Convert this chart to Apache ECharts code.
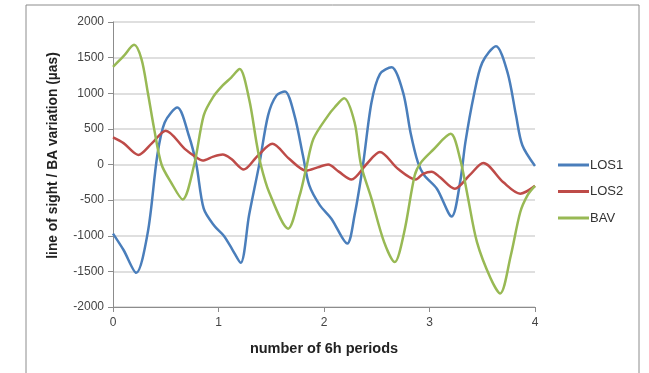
<!DOCTYPE html>
<html>
<head>
<meta charset="utf-8">
<script src="https://cdn.jsdelivr.net/npm/echarts@6/dist/echarts.min.js"></script>
<style>
  html, body { margin: 0; padding: 0; background: #fff; }
  #chart { width: 649px; height: 373px; }
</style>
</head>
<body>
<div id="chart"></div>
<script>
// values: [periods, µas]
const los1 = [
  [0, -970], [0.1, -1200], [0.22, -1520], [0.33, -950], [0.42, 130], [0.49, 590],
  [0.61, 800], [0.72, 400], [0.79, 0], [0.86, -620], [0.96, -860], [1.05, -1000],
  [1.13, -1190], [1.21, -1380], [1.29, -710], [1.39, 30], [1.47, 690], [1.55, 970],
  [1.63, 1025], [1.72, 690], [1.80, 130], [1.86, -290], [1.96, -570], [2.07, -760],
  [2.22, -1110], [2.29, -710], [2.37, 0], [2.45, 870], [2.53, 1270], [2.64, 1365],
  [2.75, 1010], [2.82, 450], [2.89, 30], [2.95, -150], [3.07, -340], [3.21, -730],
  [3.29, -250], [3.34, 310], [3.42, 970], [3.50, 1430], [3.63, 1660], [3.74, 1290],
  [3.82, 690], [3.88, 270], [4.0, -20]
]
const los2 = [
  [0, 380], [0.1, 300], [0.24, 135], [0.37, 300], [0.50, 475], [0.68, 220],
  [0.79, 100], [0.85, 55], [0.95, 110], [1.04, 140], [1.12, 80], [1.24, -70],
  [1.37, 120], [1.51, 290], [1.67, 80], [1.83, -85], [1.94, -40], [2.04, 0],
  [2.14, -100], [2.26, -210], [2.40, 0], [2.53, 175], [2.70, -60], [2.87, -210],
  [2.94, -130], [3.02, -100], [3.10, -180], [3.24, -340], [3.38, -150], [3.51, 20],
  [3.70, -250], [3.86, -410], [4.0, -300]
]
const bav = [
  [0, 1370], [0.1, 1520], [0.2, 1680], [0.27, 1480], [0.33, 1010], [0.39, 500],
  [0.46, 0], [0.55, -250], [0.66, -490], [0.77, 0], [0.86, 690], [0.95, 950],
  [1.04, 1110], [1.12, 1220], [1.2, 1340], [1.29, 920], [1.36, 310], [1.40, 0],
  [1.48, -390], [1.66, -900], [1.77, -430], [1.83, -60], [1.90, 360], [2.04, 690],
  [2.1, 800], [2.19, 930], [2.29, 590], [2.35, 0], [2.45, -480], [2.57, -1090],
  [2.67, -1370], [2.76, -950], [2.86, -150], [2.92, 30], [3.03, 200], [3.2, 430],
  [3.29, 80], [3.36, -430], [3.45, -1090], [3.58, -1600], [3.67, -1810], [3.77, -1280],
  [3.86, -670], [3.93, -430], [4.0, -300]
]
const seriesNames = ['LOS1', 'LOS2', 'BAV']
const seriesColors = ['#4a7ebb', '#be4b48', '#98b954']

const font = 'Liberation Sans'
const chart = echarts.init(document.getElementById('chart'))

function line(name, data, color) {
  return {
    name, type: 'line', data, smooth: 0.3, symbol: 'none',
    lineStyle: { color, width: 2.5 }, itemStyle: { color }
  }
}

chart.setOption({
  animation: false,
  textStyle: { fontFamily: font },
  graphic: [{
    type: 'rect', shape: { x: 26, y: 5, width: 613, height: 390 },
    style: { fill: 'none', stroke: '#8c8c8c', lineWidth: 1 }, silent: true
  }],
  grid: { left: 113, right: 114, top: 22, bottom: 66 },
  legend: {
    orient: 'vertical', left: 553, top: 153, itemGap: 12.5,
    itemWidth: 31, itemHeight: 3, icon: 'rect',
    data: seriesNames,
    textStyle: { fontFamily: font, fontSize: 13, lineHeight: 14, color: '#333', padding: [0, 0, 0, -4] }
  },
  xAxis: {
    type: 'value', min: 0, max: 4, interval: 1,
    name: 'number of 6h periods', nameLocation: 'middle', nameGap: 34,
    nameTextStyle: { fontFamily: font, fontSize: 14.5, fontWeight: 'bold', color: '#222' },
    axisLine: { show: true, onZero: false, lineStyle: { color: '#8c8c8c', width: 1 } },
    axisTick: { show: true, length: 5, inside: false, lineStyle: { color: '#8c8c8c' } },
    axisLabel: { color: '#444', fontSize: 12, margin: 10 },
    splitLine: { show: false }
  },
  yAxis: {
    type: 'value', min: -2000, max: 2000, interval: 500,
    name: 'line of sight / BA variation (µas)', nameLocation: 'middle', nameGap: 53,
    nameTextStyle: { fontFamily: font, fontSize: 13.8, fontWeight: 'bold', color: '#222', padding: [0, 0, 0, 18] },
    axisLine: { show: true, lineStyle: { color: '#8c8c8c', width: 1 } },
    axisTick: { show: true, length: 5, lineStyle: { color: '#8c8c8c' } },
    axisLabel: { color: '#444', fontSize: 12, margin: 9, formatter: v => String(v) },
    splitLine: { lineStyle: { color: '#d4d4d4', width: 1.5 } }
  },
  series: [
    line(seriesNames[0], los1, seriesColors[0]),
    line(seriesNames[1], los2, seriesColors[1]),
    line(seriesNames[2], bav, seriesColors[2])
  ]
})
</script>
</body>
</html>
